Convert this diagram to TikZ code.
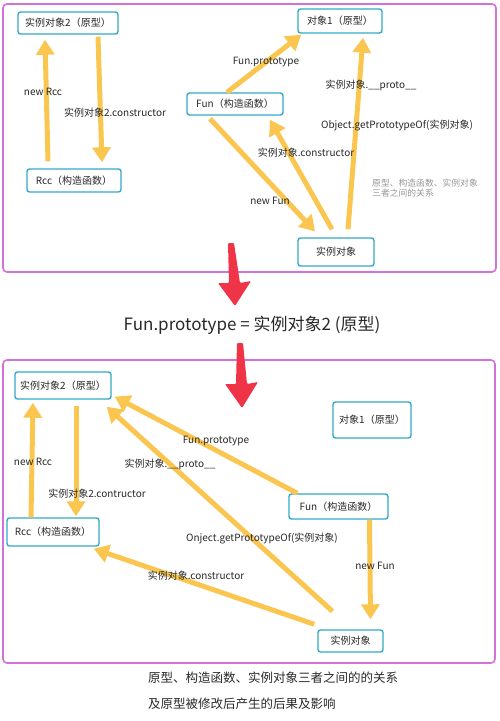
\documentclass[tikz,border=0pt]{standalone}
\usepackage{fontspec}
\setmainfont{Noto Sans CJK SC}
\usetikzlibrary{arrows.meta,calc}

\definecolor{framec}{RGB}{212,112,218}
\definecolor{boxc}{RGB}{52,168,200}
\definecolor{yel}{RGB}{250,198,80}
\definecolor{redarr}{RGB}{240,52,72}
\definecolor{notec}{RGB}{150,150,150}
\definecolor{txtc}{RGB}{40,40,40}

\tikzset{
  panel/.style={draw=framec,line width=1.6pt,rounded corners=4pt},
  box/.style={draw=boxc,line width=1.4pt,rounded corners=2.5pt,fill=white,
    inner sep=0pt,text=txtc,font=\fontsize{10}{12}\selectfont},
  yarr/.style={draw=yel,line width=5pt,-{Triangle[width=18pt,length=15pt]}},
  lbl/.style={inner sep=0pt,text=txtc,font=\fontsize{10}{12}\selectfont},
}

\begin{document}
\begin{tikzpicture}[x=1pt,y=-1pt]
\useasboundingbox (0,0) rectangle (500,721);

% panels
\draw[panel] (3,4) rectangle (496,272);
\draw[panel] (3,360) rectangle (495,663);

%% top panel
\node[box,minimum width=100pt,minimum height=22pt] (p2a) at (68,23) {实例对象2（原型）};
\node[box,minimum width=84pt,minimum height=24pt] (o1a) at (340,21) {对象1（原型）};
\node[box,minimum width=96pt,minimum height=22pt] (funa) at (235,104) {Fun（构造函数）};
\node[box,minimum width=94pt,minimum height=23pt] (rcca) at (74,180.5) {Rcc（构造函数）};
\node[box,minimum width=76pt,minimum height=28pt] (insta) at (336,252) {实例对象};

\draw[yarr] ([xshift=-26pt,yshift=7pt]rcca.north) -- ([xshift=-23pt,yshift=-5pt]p2a.south);
\draw[yarr] ([xshift=30pt,yshift=-2pt]p2a.south) -- ([xshift=28pt,yshift=6pt]rcca.north);
\draw[yarr] ([xshift=-8pt]funa.north) -- ([xshift=4pt,yshift=-1pt]o1a.south west);
\draw[yarr] ([xshift=12pt,yshift=8pt]insta.north) -- ([xshift=23pt,yshift=-4pt]o1a.south);
\draw[yarr] ([xshift=-25pt,yshift=-3pt]funa.south) -- ([xshift=-21pt,yshift=6pt]insta.north);
\draw[yarr] ([xshift=-4pt,yshift=8pt]insta.north) -- ([xshift=35pt,yshift=-4pt]funa.south);

\node[lbl] (la1) at (43,92) {new Rcc};
\node[lbl] (la2) at (115,113) {实例对象2.constructor};
\node[lbl] (la3) at (266,62) {Fun.prototype};
\node[lbl] (la4) at (371,85) {实例对象.\_\_proto\_\_};
\node[lbl] (la5) at (397,126) {Object.getPrototypeOf(实例对象)};
\node[lbl] (la6) at (270,201) {new Fun};
\node[lbl] (la7) at (306,153) {实例对象.constructor};
\node[lbl,anchor=west,align=left,text=notec,font=\fontsize{8.8}{10.5}\selectfont] (note) at (372,188)
  {原型、构造函数、实例对象\\三者之间的关系};

%% red arrows and middle text
\fill[redarr,rounded corners=1pt] (228,243) -- (234,243) -- (240,283) -- (251,281)
  -- (235,306) -- (218,283) -- (229,283) -- cycle;
\node[inner sep=0pt,text=txtc,font=\fontsize{17}{20}\selectfont] (eq) at (252,325)
  {Fun.prototype = 实例对象2 (原型)};
\fill[redarr,rounded corners=1pt] (237,343) -- (243,343) -- (247,384) -- (258,382)
  -- (242,408) -- (225,384) -- (236,384) -- cycle;

%% bottom panel
\node[box,minimum width=96pt,minimum height=27pt] (p2b) at (63,385.5) {实例对象2（原型）};
\node[box,minimum width=78pt,minimum height=36pt] (o1b) at (372,420) {对象1（原型）};
\node[box,minimum width=99pt,minimum height=25pt] (funb) at (338.5,506.5) {Fun（构造函数）};
\node[box,minimum width=92pt,minimum height=28pt] (rccb) at (53,532) {Rcc（构造函数）};
\node[box,minimum width=65pt,minimum height=22pt] (instb) at (350.5,641) {实例对象};

\draw[yarr] ([xshift=-22pt]rccb.north) -- ([xshift=-30pt,yshift=-3pt]p2b.south);
\draw[yarr] ([xshift=13pt,yshift=-6pt]p2b.south) -- ([xshift=23pt,yshift=1pt]rccb.north);
\draw[yarr] ([xshift=9pt]funb.north west) -- ([xshift=3pt,yshift=3pt]p2b.south east);
\draw[yarr] ([xshift=-18pt,yshift=18pt]instb.north) -- ([xshift=-5pt,yshift=-7pt]p2b.south east);
\draw[yarr] ([xshift=31pt]funb.south) -- ([xshift=20pt,yshift=10pt]instb.north);
\draw[yarr] ([xshift=-3pt,yshift=5pt]instb.north west) -- ([xshift=-6pt,yshift=-2pt]rccb.south east);

\node[lbl] (lb1) at (33,462) {new Rcc};
\node[lbl] (lb2) at (97,494) {实例对象2.contructor};
\node[lbl] (lb3) at (216,441) {Fun.prototype};
\node[lbl] (lb4) at (170,464) {实例对象.\_\_proto\_\_};
\node[lbl] (lb5) at (262,539) {Onject.getPrototypeOf(实例对象)};
\node[lbl] (lb6) at (375,566) {new Fun};
\node[lbl] (lb7) at (196,576) {实例对象.constructor};

%% captions
\node[inner sep=0pt,anchor=west,text=txtc,font=\fontsize{12.5}{15}\selectfont] (cap1) at (148,678)
  {原型、构造函数、实例对象三者之间的的关系};
\node[inner sep=0pt,anchor=west,text=txtc,font=\fontsize{12.5}{15}\selectfont] (cap2) at (148,704)
  {及原型被修改后产生的后果及影响};
\end{tikzpicture}
\end{document}
